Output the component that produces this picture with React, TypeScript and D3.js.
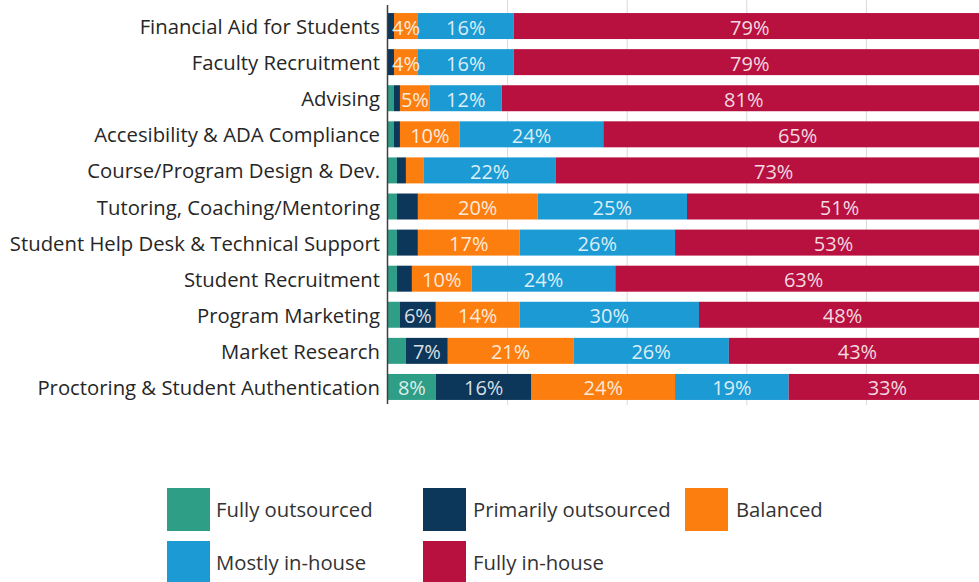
import React from "react";
import * as d3 from "d3";

const categories = [
  "Financial Aid for Students",
  "Faculty Recruitment",
  "Advising",
  "Accesibility & ADA Compliance",
  "Course/Program Design & Dev.",
  "Tutoring, Coaching/Mentoring",
  "Student Help Desk & Technical Support",
  "Student Recruitment",
  "Program Marketing",
  "Market Research",
  "Proctoring & Student Authentication",
];

const seriesNames = [
  "Fully outsourced",
  "Primarily outsourced",
  "Balanced",
  "Mostly in-house",
  "Fully in-house",
];

const fullyOutsourced = [0, 0, 1, 1, 1.5, 1.5, 1.5, 1.5, 2, 3, 8];
const primarilyOutsourced = [1, 1, 1, 1, 1.5, 3.5, 3.5, 2.5, 6, 7, 16];
const balanced = [4, 4, 5, 10, 3, 20, 17, 10, 14, 21, 24];
const mostlyInHouse = [16, 16, 12, 24, 22, 25, 26, 24, 30, 26, 19];
const fullyInHouse = [79, 79, 81, 65, 73, 51, 53, 63, 48, 43, 33];

const xTicks = [20, 40, 60, 80];

const colors = ["#2f9e87", "#0c365a", "#fb7e0f", "#1b9ad4", "#b8103f"];

export default function App() {
  const W = 979;
  const H = 582;
  const font = "'Open Sans', Lato, sans-serif";

  const rows = categories.map((c, i) => ({
    cat: c,
    s0: fullyOutsourced[i],
    s1: primarilyOutsourced[i],
    s2: balanced[i],
    s3: mostlyInHouse[i],
    s4: fullyInHouse[i],
  }));
  const keys = ["s0", "s1", "s2", "s3", "s4"];
  const stacked = d3.stack<any>().keys(keys)(rows);

  const x = d3.scaleLinear().domain([0, 100]).range([388, 986]);
  const y = d3
    .scaleBand<string>()
    .domain(categories)
    .range([8, 405])
    .paddingInner(0.28)
    .paddingOuter(0.14);

  const legendPos = [
    { rx: 167, ry: 488, tx: 216 },
    { rx: 423, ry: 488, tx: 473 },
    { rx: 685, ry: 488, tx: 736 },
    { rx: 167, ry: 541, tx: 216 },
    { rx: 423, ry: 541, tx: 473 },
  ];

  return (
    <svg
      width={W}
      height={H}
      style={{ position: "absolute", left: 0, top: 0, background: "#fff" }}
    >
      <rect x={0} y={0} width={W} height={H} fill="#fff" />
      {xTicks.map((t) => (
        <line
          key={t}
          x1={x(t)}
          x2={x(t)}
          y1={0}
          y2={405}
          stroke="#d9d9d9"
          strokeWidth={1}
        />
      ))}
      {stacked.map((layer, si) => (
        <g key={si} fill={colors[si]}>
          {layer.map((d, i) => {
            const w = x(d[1]) - x(d[0]);
            if (w <= 0) return null;
            return (
              <rect
                key={i}
                x={x(d[0])}
                y={y(categories[i])}
                width={w}
                height={y.bandwidth()}
              />
            );
          })}
        </g>
      ))}
      {stacked.map((layer, si) => (
        <g key={"l" + si}>
          {layer.map((d, i) => {
            const v = d[1] - d[0];
            if (v < 4) return null;
            return (
              <text
                key={i}
                x={(x(d[0]) + x(d[1])) / 2}
                y={(y(categories[i]) as number) + y.bandwidth() / 2 + 1}
                textAnchor="middle"
                dominantBaseline="central"
                fill="#ffffff"
                fillOpacity={0.85}
                fontFamily={font}
                fontSize={20}
              >
                {Math.round(v) + "%"}
              </text>
            );
          })}
        </g>
      ))}
      <line x1={387.5} x2={387.5} y1={5} y2={404} stroke="#404040" strokeWidth={1.5} />
      {categories.map((c) => (
        <text
          key={c}
          x={380}
          y={(y(c) as number) + y.bandwidth() / 2}
          textAnchor="end"
          dominantBaseline="central"
          fill="#262626"
          fontFamily={font}
          fontSize={20.3}
        >
          {c}
        </text>
      ))}
      {seriesNames.map((n, i) => (
        <g key={n}>
          <rect x={legendPos[i].rx} y={legendPos[i].ry} width={43} height={43} fill={colors[i]} />
          <text
            x={legendPos[i].tx}
            y={legendPos[i].ry + 21}
            dominantBaseline="central"
            fill="#333333"
            fontFamily={font}
            fontSize={20.3}
          >
            {n}
          </text>
        </g>
      ))}
    </svg>
  );
}
